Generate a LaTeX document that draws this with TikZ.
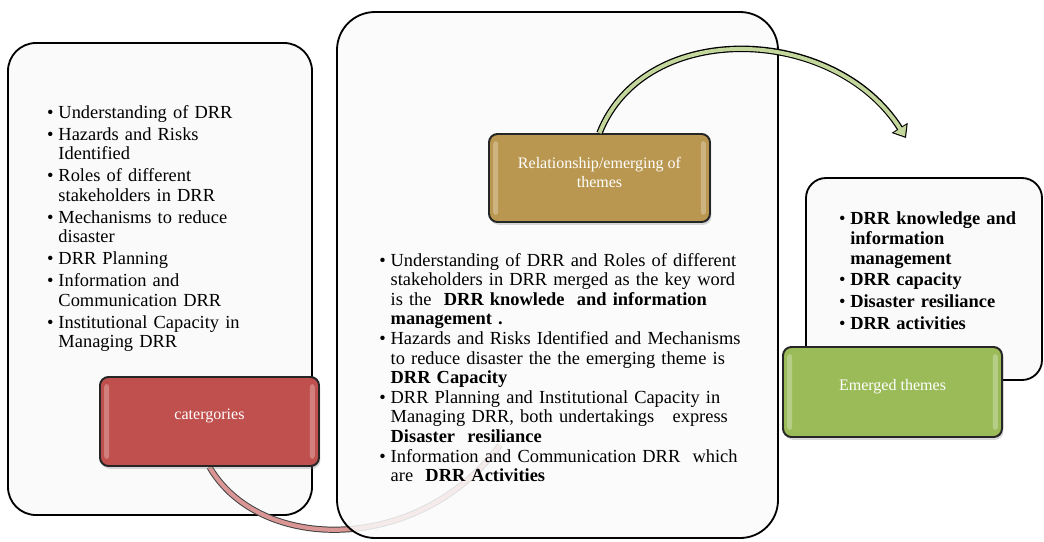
\documentclass[tikz,border=0pt]{standalone}
\usepackage{fontspec}
\setmainfont{Liberation Serif}
\usepackage{enumitem}
\usetikzlibrary{arrows.meta,fit,shadows}

\definecolor{catred}{RGB}{192,80,77}
\definecolor{relgold}{RGB}{185,151,80}
\definecolor{themegreen}{RGB}{155,187,89}
\definecolor{arrowgreen}{RGB}{195,214,155}
\definecolor{linkpink}{RGB}{217,150,148}

\pgfdeclarelayer{bg}
\pgfdeclarelayer{link}
\pgfsetlayers{bg,link,main}

\tikzset{
  panel/.style={draw=black, line width=1.3pt, fill=black!2, inner sep=0pt},
  accent/.style={draw=black!85, line width=1.4pt, rounded corners=6pt, inner sep=0pt,
    text=white, align=center, font=\fontsize{11.4}{13.2}\selectfont,
    drop shadow={opacity=0.3, shadow xshift=1pt, shadow yshift=-2pt},
    path picture={
      \fill[white, opacity=0.28, rounded corners=2pt]
        ([shift={(3pt,-5pt)}]path picture bounding box.north west) rectangle
        ([shift={(6.5pt,5pt)}]path picture bounding box.south west)
        ([shift={(-6.5pt,-5pt)}]path picture bounding box.north east) rectangle
        ([shift={(-3pt,5pt)}]path picture bounding box.south east);
    }},
  list/.style={anchor=north west, inner sep=0pt, align=left,
    font=\fontsize{13.1}{13.7}\selectfont},
  link/.style={draw=black!75, line width=0.7pt, double=linkpink, double distance=3pt},
}

\begin{document}
\begin{tikzpicture}[x=0.025cm, y=-0.025cm]
\useasboundingbox (0,0) rectangle (1044,541);

% the three panels
\begin{pgfonlayer}{bg}
\node[panel, rounded corners=0.7cm, fit={(8,43) (312,515)}] (cat panel) {};
\end{pgfonlayer}
\node[panel, rounded corners=0.95cm, fill opacity=0.86, fit={(337,12) (778,538)}] (rel panel) {};
\node[panel, rounded corners=0.5cm, fit={(806,178) (1042,380)}] (theme panel) {};

% accent boxes
\node[accent, fill=catred, fit={(100,377) (319,466)}] (catbox) {catergories};
\node[accent, fill=relgold, fit={(489,134) (710,222)}] (relbox) {Relationship/emerging of\\themes};
\node[accent, fill=themegreen, fit={(783,347) (1002,437)}] (themebox) {Emerged themes};

\begin{pgfonlayer}{link}
\coordinate (link end) at (500,445);
\draw[link] (catbox.south) .. controls (260,554) and (420,554) .. (link end);
\end{pgfonlayer}

% lists
\node[list, text width=6.2cm] (cat list) at (47,99) {%
\begin{itemize}[leftmargin=0.28cm, labelsep=0.12cm, nosep, itemsep=2pt]
\item Understanding of DRR
\item Hazards and Risks\\ Identified
\item Roles of different\\ stakeholders in DRR
\item Mechanisms to reduce\\ disaster
\item DRR Planning
\item Information and\\ Communication DRR
\item Institutional Capacity in\\ Managing DRR
\end{itemize}};

\node[list, text width=9.4cm] (rel list) at (380,247) {%
\begin{itemize}[leftmargin=0.26cm, labelsep=0.12cm, nosep, itemsep=0.8pt]
\item Understanding of DRR and Roles of different\\ stakeholders in DRR merged as the key word\\ is the\ \ \textbf{DRR knowlede\ \ and information}\\ \textbf{management .}
\item Hazards and Risks Identified and Mechanisms\\ to reduce disaster the the emerging theme is\\ \textbf{DRR Capacity}
\item DRR Planning and Institutional Capacity in\\ Managing DRR, both undertakings\ \ \ express\\ \textbf{Disaster\ \ resiliance}
\item Information and Communication DRR\ \ which\\ are\ \ \textbf{DRR Activities}
\end{itemize}};

\node[list, text width=5cm, font=\fontsize{13.1}{14.2}\selectfont\bfseries] (theme list) at (838,204) {%
\begin{itemize}[leftmargin=0.3cm, labelsep=0.12cm, nosep, itemsep=1.2pt]
\item DRR knowledge and\\ information\\ management
\item DRR capacity
\item Disaster resiliance
\item DRR activities
\end{itemize}};

% arrow to the emerged themes
\coordinate (theme tip) at (906,138);
\draw[black, line width=4.6pt, -{Triangle[width=13pt,length=8.5pt]}]
  (relbox.north) .. controls (645,18) and (835,25) .. (theme tip);
\draw[arrowgreen, line width=2.8pt, shorten >=1.3pt, -{Triangle[width=10pt,length=6.5pt]}]
  (relbox.north) .. controls (645,18) and (835,25) .. (theme tip);
\end{tikzpicture}
\end{document}
